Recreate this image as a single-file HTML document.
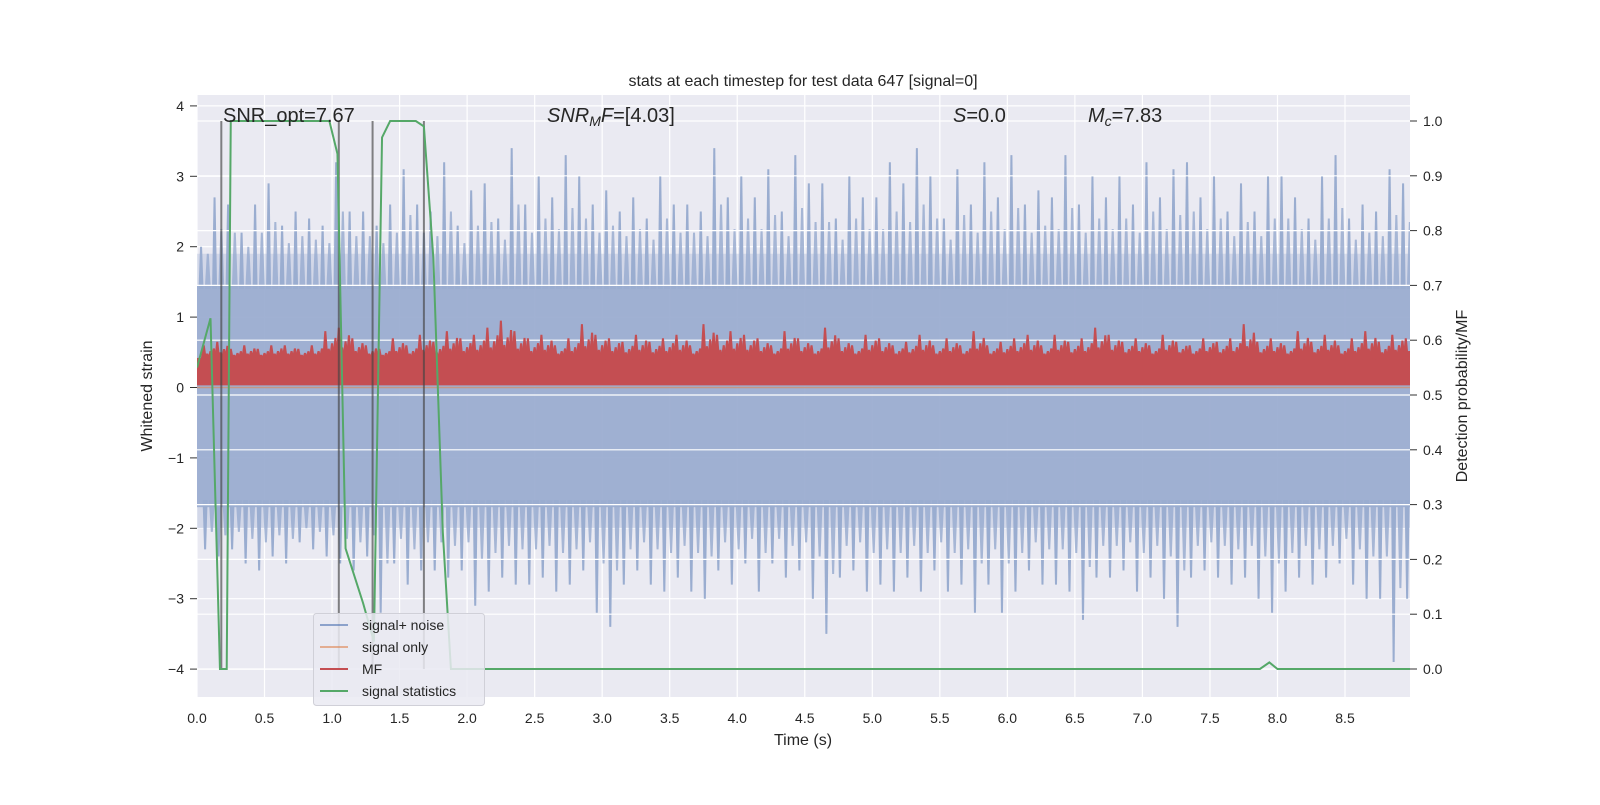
<!DOCTYPE html>
<html><head><meta charset="utf-8"><style>
body{margin:0;background:#fff;}
svg text{font-family:"Liberation Sans","DejaVu Sans",sans-serif;fill:#262626;}
</style></head><body>
<svg id="chart" width="1600" height="800" xmlns="http://www.w3.org/2000/svg">
<defs><clipPath id="pc"><rect x="197" y="95" width="1213" height="602"/></clipPath></defs>
<rect x="197" y="95" width="1213" height="602" fill="#eaeaf2"/>
<g clip-path="url(#pc)"><g id="gridL"></g><g id="noise"></g><g id="gridR"></g><g id="mf"></g><g id="vlines"></g><g id="stats"></g></g><g id="axes"></g>
<text x="803" y="86" text-anchor="middle" font-size="16">stats at each timestep for test data 647 [signal=0]</text>
<text x="223" y="122" font-size="20">SNR_opt=7.67</text>
<text x="547" y="122" font-size="20"><tspan font-style="italic">SNR</tspan><tspan font-style="italic" font-size="14" dy="4">M</tspan><tspan font-style="italic" dy="-4">F</tspan>=[4.03]</text>
<text x="953" y="122" font-size="20"><tspan font-style="italic">S</tspan>=0.0</text>
<text x="1088" y="122" font-size="20"><tspan font-style="italic">M</tspan><tspan font-style="italic" font-size="14" dy="4">c</tspan><tspan dy="-4">=7.83</tspan></text>
<text x="803" y="745" text-anchor="middle" font-size="16">Time (s)</text>
<text transform="translate(152,396) rotate(-90)" text-anchor="middle" font-size="16">Whitened strain</text>
<text transform="translate(1467,396) rotate(-90)" text-anchor="middle" font-size="16">Detection probability/MF</text>
<g>
<rect x="313.5" y="613.5" width="171" height="92" rx="3" fill="#eaeaf2" fill-opacity="0.85" stroke="#d0d0d8"/>
<g><line x1="320" y1="625" x2="348" y2="625" stroke="#4c72b0" stroke-opacity="0.6" stroke-width="2"/><text x="362" y="630" font-size="14">signal+ noise</text></g>
<g><line x1="320" y1="647" x2="348" y2="647" stroke="#dd8452" stroke-opacity="0.6" stroke-width="2"/><text x="362" y="652" font-size="14">signal only</text></g>
<g><line x1="320" y1="669" x2="348" y2="669" stroke="#c44e52" stroke-width="2"/><text x="362" y="674" font-size="14">MF</text></g>
<g><line x1="320" y1="691" x2="348" y2="691" stroke="#55a868" stroke-width="2"/><text x="362" y="696" font-size="14">signal statistics</text></g>
</g>
</svg>
<script>
const xTicks=[0,0.5,1,1.5,2,2.5,3,3.5,4,4.5,5,5.5,6,6.5,7,7.5,8,8.5];
const yTicksL=[-4,-3,-2,-1,0,1,2,3,4];
const yTicksR=[0,0.1,0.2,0.3,0.4,0.5,0.6,0.7,0.8,0.9,1.0];
const noiseUpper=[2.0,2.7,2.6,2.2,2.6,2.9,2.3,2.5,2.4,2.3,3.2,2.5,2.5,2.3,2.6,3.1,2.6,2.5,3.2,2.3,2.8,2.9,2.4,3.4,2.6,3.0,2.7,3.3,3.0,2.6,2.8,2.5,2.7,2.4,3.0,2.6,2.6,2.5,3.4,2.7,3.0,2.7,3.1,2.5,3.3,2.9,2.9,2.4,3.0,2.7,2.7,3.2,2.9,3.4,3.0,2.4,3.1,2.6,3.2,2.7,3.3,2.6,2.8,2.7,3.3,2.6,3.0,2.7,3.0,2.6,3.2,2.7,3.1,3.2,2.7,3.0,2.5,2.9,2.5,3.0,3.0,2.7,2.4,3.0,3.3,2.4,2.6,2.5,3.1,2.9];
const noiseLower=[-2.3,-2.4,-2.3,-2.5,-2.6,-2.4,-2.5,-2.2,-2.3,-2.4,-2.5,-2.6,-2.4,-3.2,-2.5,-2.8,-2.6,-2.6,-2.7,-2.6,-3.1,-2.9,-2.7,-2.8,-2.8,-2.7,-2.9,-2.8,-2.6,-3.2,-3.4,-2.8,-2.6,-2.8,-2.9,-2.7,-2.9,-3.0,-2.6,-2.8,-2.5,-2.9,-2.5,-2.7,-2.6,-3.0,-3.5,-2.7,-2.6,-2.9,-2.8,-2.9,-2.7,-2.9,-2.6,-2.9,-2.8,-3.2,-2.8,-3.2,-2.9,-2.6,-2.8,-2.8,-2.9,-3.3,-2.7,-2.7,-2.6,-2.9,-2.7,-3.0,-3.4,-2.7,-2.6,-2.7,-2.8,-2.7,-3.0,-3.2,-2.9,-2.7,-2.8,-2.7,-2.5,-2.8,-3.0,-3.0,-3.9,-3.0];
const mfPeaks=[0.6,0.65,0.55,0.6,0.55,0.6,0.6,0.55,0.6,0.8,0.85,0.7,0.6,0.55,0.7,0.6,0.75,0.65,0.8,0.7,0.75,0.85,0.95,0.8,0.7,0.75,0.6,0.7,0.9,0.75,0.7,0.65,0.75,0.65,0.7,0.75,0.6,0.9,0.75,0.8,0.75,0.7,0.6,0.8,0.7,0.6,0.85,0.7,0.6,0.75,0.7,0.6,0.65,0.75,0.6,0.7,0.6,0.8,0.6,0.65,0.7,0.75,0.6,0.75,0.65,0.7,0.85,0.75,0.65,0.7,0.6,0.75,0.65,0.6,0.7,0.65,0.7,0.9,0.65,0.7,0.6,0.8,0.65,0.75,0.6,0.7,0.8,0.65,0.75,0.7];
const statT=[0,0.1,0.17,0.22,0.25,0.98,1.04,1.1,1.23,1.31,1.37,1.43,1.62,1.68,1.75,1.82,1.88,7.87,7.94,8.0,8.99];
const statV=[0.55,0.64,0,0,1.0,1.0,0.94,0.22,0.12,0.05,0.97,1.0,1.0,0.99,0.75,0.25,0,0,0.012,0,0];
const markerT=[0.18,1.05,1.3,1.68];
const sx=t=>197+t*135.06, syL=v=>387.5-v*70.4, syR=v=>669-v*548;
const NS='http://www.w3.org/2000/svg';
function mk(tag,attrs,parent){const e=document.createElementNS(NS,tag);for(const k in attrs)e.setAttribute(k,attrs[k]);document.getElementById(parent).appendChild(e);return e;}
xTicks.forEach(t=>{const l=mk('line',{x1:sx(t),x2:sx(t),y1:95,y2:697,stroke:'#fff','stroke-width':1.2},'gridL');


const tx=mk('text',{x:sx(t),y:723,'text-anchor':'middle','font-size':14},'axes');tx.textContent=t.toFixed(1);

});
yTicksL.forEach(v=>{const l=mk('line',{x1:197,x2:1410,y1:syL(v),y2:syL(v),stroke:'#fff','stroke-width':1.2},'gridL');


mk('line',{x1:190,x2:197,y1:syL(v),y2:syL(v),stroke:'#333'},'axes');
const tx=mk('text',{x:184,y:syL(v)+5,'text-anchor':'end','font-size':14},'axes');tx.textContent=v<0?'\u2212'+(-v):String(v);

});
yTicksR.forEach(v=>{const l=mk('line',{x1:197,x2:1410,y1:syR(v),y2:syR(v),stroke:'#fff','stroke-width':1.2},'gridR');


mk('line',{x1:1410,x2:1417,y1:syR(v),y2:syR(v),stroke:'#333'},'axes');
const tx=mk('text',{x:1423,y:syR(v)+5,'font-size':14},'axes');tx.textContent=v.toFixed(1);

});
const b1=mk('rect',{x:197,y:syL(1.45),width:1213,height:syL(-1.7)-syL(1.45),fill:'#9aadd0','fill-opacity':0.92},'noise');


const b2=mk('rect',{x:197,y:syL(1.9),width:1213,height:syL(-2.0)-syL(1.9),fill:'#9aadd0','fill-opacity':0.3},'noise');


noiseUpper.forEach((v,i)=>{const t=i*0.1+0.03;
const p=mk('path',{d:`M${sx(t)-2.5},${syL(1.4)}L${sx(t)-1},${syL(v)}L${sx(t)+1},${syL(v)}L${sx(t)+2.5},${syL(1.4)}Z`,fill:'#9aadd0'},'noise');


const q=mk('path',{d:`M${sx(t+0.05)-3},${syL(1.4)}L${sx(t+0.05)-1},${syL((v+1.4)/2+0.2)}L${sx(t+0.05)+1},${syL((v+1.4)/2+0.2)}L${sx(t+0.05)+3},${syL(1.4)}Z`,fill:'#9aadd0','fill-opacity':0.85},'noise');

});
noiseLower.forEach((v,i)=>{const t=i*0.1+0.06;
const p=mk('path',{d:`M${sx(t)-2.5},${syL(-1.6)}L${sx(t)-1},${syL(v)}L${sx(t)+1},${syL(v)}L${sx(t)+2.5},${syL(-1.6)}Z`,fill:'#9aadd0'},'noise');


const q=mk('path',{d:`M${sx(t+0.05)-3},${syL(-1.6)}L${sx(t+0.05)-1},${syL((v-1.6)/2-0.1)}L${sx(t+0.05)+1},${syL((v-1.6)/2-0.1)}L${sx(t+0.05)+3},${syL(-1.6)}Z`,fill:'#9aadd0','fill-opacity':0.85},'noise');

});
const so=mk('line',{x1:197,x2:1410,y1:syL(0),y2:syL(0),stroke:'#dd8452','stroke-opacity':0.6,'stroke-width':1.5},'mf');


const mb=mk('rect',{x:197,y:syL(0.42),width:1213,height:syL(0.03)-syL(0.42),fill:'#c44e52'},'mf');


mfPeaks.forEach((v,i)=>{const t=i*0.1+0.05;
const p=mk('path',{d:`M${sx(t)-3},${syL(0.4)}L${sx(t)-1},${syL(v)}L${sx(t)+1},${syL(v)}L${sx(t)+3},${syL(0.4)}Z`,fill:'#c44e52'},'mf');


[0.025,0.05,0.075].forEach((o,j)=>{const h=0.42+(v-0.42)*(0.35+0.2*j);
const m=mk('path',{d:`M${sx(t+o)-3},${syL(0.4)}L${sx(t+o)-1},${syL(h)}L${sx(t+o)+1},${syL(h)}L${sx(t+o)+3},${syL(0.4)}Z`,fill:'#c44e52'},'mf');

});});
markerT.forEach(t=>{const l=mk('line',{x1:sx(t),x2:sx(t),y1:syR(1),y2:syR(0),stroke:'#444','stroke-opacity':0.65,'stroke-width':2},'vlines');

});
const sp=mk('polyline',{points:statT.map((t,i)=>sx(t)+','+syR(statV[i])).join(' '),fill:'none',stroke:'#55a868','stroke-width':2},'stats');


</script>
</body></html>
